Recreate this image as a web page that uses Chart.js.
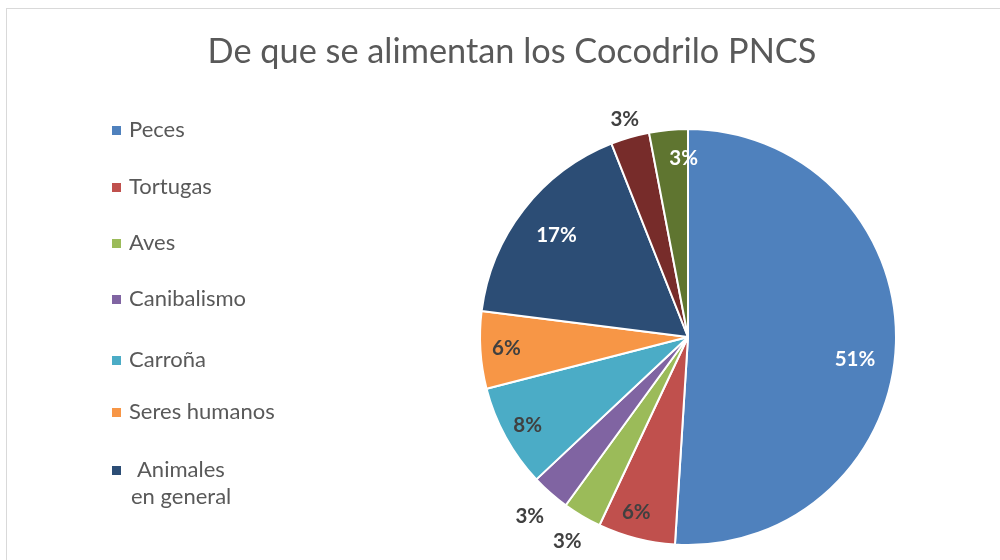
<!DOCTYPE html>
<html>
<head>
  <meta charset="utf-8">
  <title>De que se alimentan los Cocodrilo PNCS</title>
  <script src="https://cdn.jsdelivr.net/npm/chart.js"></script>
  <style>
    body { margin: 0; background: #fff; }
    #frame { position: absolute; left: 6px; top: 8px; width: 1100px; height: 700px;
             border-top: 1px solid #d9d9d9; border-left: 1px solid #d9d9d9; }
    #pieChart { position: absolute; left: 0; top: 0; }
  </style>
</head>
<body>
  <div id="frame"></div>
  <canvas id="pieChart" width="1000" height="560"></canvas>

  <script>
    const title = 'De que se alimentan los Cocodrilo PNCS';
    const categories = ['Peces', 'Tortugas', 'Aves', 'Canibalismo', 'Carroña',
                        'Seres humanos', ['Animales', 'en general'], '', ''];
    const percents = [51, 6, 3, 3, 8, 6, 17, 3, 3];
    const colors = ['#4f81bd', '#c0504d', '#9bbb59', '#8064a2', '#4bacc6',
                    '#f79646', '#2c4d75', '#772c2a', '#5f7530'];
    const legendCount = 7;

    // label placement: radius factor, angle nudge (deg), text colour
    const labelPlace = [
      [0.81, 6, '#fff'], [0.88, 2, '#404040'], [1.14, 0, '#404040'],
      [1.15, 0, '#404040'], [0.88, 0, '#404040'], [0.875, 0, '#404040'],
      [0.80, 0, '#fff'], [1.09, 0, '#404040'], [0.86, 4, '#fff']
    ];

    const extras = {
      id: 'extras',
      afterDraw(chart) {
        const ctx = chart.ctx;
        ctx.save();
        // title
        ctx.fillStyle = '#595959';
        ctx.font = '34.3px Lato';
        ctx.textAlign = 'center';
        ctx.textBaseline = 'middle';
        ctx.fillText(title, 512, 52);

        // legend
        const ys = [130, 187, 243, 299, 360, 412, 470];
        ctx.font = '22px Lato';
        ctx.textAlign = 'left';
        for (let i = 0; i < legendCount; i++) {
          ctx.fillStyle = colors[i];
          ctx.fillRect(112, ys[i] - 4, 9, 9);
          ctx.fillStyle = '#595959';
          const lab = categories[i];
          if (Array.isArray(lab)) {
            ctx.fillText(lab[0], 137, ys[i]);
            ctx.fillText(lab[1], 131, ys[i] + 27);
          } else {
            ctx.fillText(lab, 129, ys[i]);
          }
        }

        // data labels
        const meta = chart.getDatasetMeta(0);
        ctx.font = 'bold 20.5px Lato';
        ctx.textAlign = 'center';
        meta.data.forEach((arc, i) => {
          const p = arc.getProps(['x', 'y', 'startAngle', 'endAngle', 'outerRadius'], true);
          const a = (p.startAngle + p.endAngle) / 2 + labelPlace[i][1] * Math.PI / 180;
          const r = p.outerRadius * labelPlace[i][0];
          ctx.fillStyle = labelPlace[i][2];
          ctx.fillText(percents[i] + '%', p.x + r * Math.cos(a), p.y + r * Math.sin(a));
        });
        ctx.restore();
      }
    };

    new Chart(document.getElementById('pieChart'), {
      type: 'pie',
      data: {
        labels: categories,
        datasets: [{
          data: percents,
          backgroundColor: colors,
          borderColor: '#fff',
          borderWidth: 2
        }]
      },
      options: {
        responsive: false,
        animation: false,
        layout: { padding: { left: 479, right: 103, top: 128, bottom: 14 } },
        plugins: {
          legend: { display: false },
          tooltip: { enabled: false }
        }
      },
      plugins: [extras]
    });
  </script>
</body>
</html>
